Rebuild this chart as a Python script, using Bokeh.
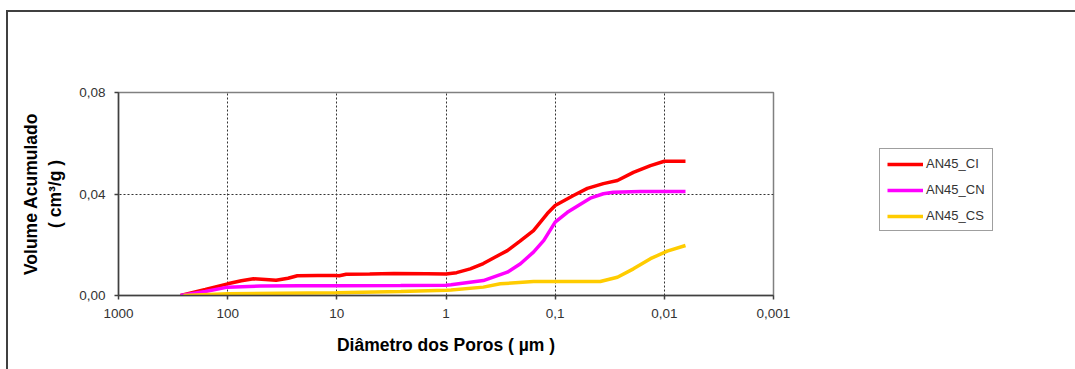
from bokeh.plotting import figure
from bokeh.models import (Range1d, FixedTicker, CustomJSTickFormatter, Legend, LegendItem)
from bokeh.embed import file_html
from bokeh.resources import INLINE

# ---- data ----
ci_d = [270, 160, 100, 75, 58, 45, 36, 28, 23, 15, 10.5, 9.5, 8.2, 5, 3, 1.5, 1.0, 0.8,
        0.6, 0.455, 0.36, 0.274, 0.21, 0.158, 0.118, 0.1, 0.068, 0.0507, 0.0362, 0.0269,
        0.0192, 0.0134, 0.01, 0.0064]
ci_v = [0.0, 0.0024, 0.0046, 0.0058, 0.0066, 0.0063, 0.0060, 0.0068, 0.0078, 0.0079,
        0.0079, 0.0078, 0.0084, 0.0085, 0.0087, 0.0086, 0.0085, 0.0090,
        0.0105, 0.0126, 0.0150, 0.0177, 0.0214, 0.0256, 0.0323, 0.0355, 0.0394, 0.0422,
        0.0441, 0.0453, 0.0485, 0.0512, 0.0529, 0.0529]

cn_d = [270, 160, 100, 50, 21.7, 10, 2.6, 1.0, 0.9, 0.455, 0.274, 0.208, 0.158, 0.127,
        0.1, 0.0773, 0.0582, 0.0469, 0.0362, 0.0294, 0.0166, 0.0064]
cn_v = [0.0, 0.0016, 0.0033, 0.0037, 0.0038, 0.0038, 0.0039, 0.0040, 0.0042, 0.0059,
        0.0092, 0.0125, 0.0171, 0.0217, 0.0289, 0.0328, 0.0361, 0.0385, 0.0401, 0.0407,
        0.0410, 0.0410]

cs_d = [254, 100, 32.8, 10, 2.6, 1.0, 0.9, 0.455, 0.318, 0.158, 0.1, 0.0386, 0.0269,
        0.0192, 0.0134, 0.0094, 0.0064]
cs_v = [0.0, 0.0007, 0.0009, 0.0011, 0.0016, 0.0021, 0.0022, 0.0033, 0.0046, 0.0055,
        0.0055, 0.0055, 0.0072, 0.0105, 0.0145, 0.0175, 0.0197]

series_names = ["AN45_CI", "AN45_CN", "AN45_CS"]
x_ticks = [1000, 100, 10, 1, 0.1, 0.01, 0.001]
y_ticks = [0.0, 0.04, 0.08]

FONT = "Liberation Sans"

p = figure(frame_width=655, frame_height=203, x_axis_type="log",
           x_range=Range1d(1000, 0.001), y_range=Range1d(0, 0.08),
           output_backend="svg", toolbar_location=None,
           min_border_left=110, min_border_top=80, min_border_right=302,
           min_border_bottom=74)

# outer chart-area border (Excel chart area)
p.styles = {"margin-left": "6px", "margin-top": "10px",
            "border-left": "2px solid #404040", "border-top": "2px solid #404040"}

p.background_fill_color = "white"
p.border_fill_color = "white"
p.outline_line_color = "#808080"
p.outline_line_width = 1.5

colors = ["#FF0000", "#FF00FF", "#FFCC00"]
r1 = p.line(ci_d, ci_v, line_color=colors[0], line_width=3.5)
r2 = p.line(cn_d, cn_v, line_color=colors[1], line_width=3.5)
r3 = p.line(cs_d, cs_v, line_color=colors[2], line_width=3.5)

# axes
p.xaxis.ticker = FixedTicker(ticks=x_ticks, minor_ticks=[])
p.yaxis.ticker = FixedTicker(ticks=y_ticks, minor_ticks=[])
p.xaxis.formatter = CustomJSTickFormatter(
    code="return String(Number(tick.toPrecision(1))).replace('.', ',');")
p.yaxis.formatter = CustomJSTickFormatter(
    code="return tick.toFixed(2).replace('.', ',');")

for ax in (p.xaxis[0], p.yaxis[0]):
    ax.axis_line_color = "#404040"
    ax.axis_line_width = 1.5
    ax.major_tick_line_color = "#404040"
    ax.major_tick_line_width = 1.5
    ax.major_tick_out = 4
    ax.major_tick_in = 0
    ax.minor_tick_line_color = None
    ax.major_label_text_font = FONT
    ax.major_label_text_font_size = "13.5px"
    ax.major_label_text_color = "#333333"
    ax.axis_label_text_font = FONT
    ax.axis_label_text_font_size = "17.5px"
    ax.axis_label_text_font_style = "bold"
    ax.axis_label_text_color = "#000000"

p.xaxis.axis_label = "Diâmetro dos Poros ( µm )"
p.xaxis.major_label_standoff = 9
p.xaxis.axis_label_standoff = 14
p.yaxis.axis_label = "Volume Acumulado\n( cm³/g )"
p.yaxis.major_label_standoff = 9
p.yaxis.axis_label_standoff = 11

# grid
p.xgrid.ticker = FixedTicker(ticks=[100, 10, 1, 0.1, 0.01])
p.ygrid.ticker = FixedTicker(ticks=[0.04])
for g in (p.xgrid[0], p.ygrid[0]):
    g.grid_line_color = "#333333"
    g.grid_line_width = 1
    g.grid_line_dash = "2 2"

# legend
legend = Legend(items=[LegendItem(label=series_names[0], renderers=[r1]),
                       LegendItem(label=series_names[1], renderers=[r2]),
                       LegendItem(label=series_names[2], renderers=[r3])],
                location=(106, 64), orientation="vertical")
legend.border_line_color = "#404040"
legend.border_line_width = 1
legend.background_fill_color = "white"
legend.background_fill_alpha = 1
legend.label_text_font = FONT
legend.label_text_font_size = "13px"
legend.label_text_color = "#333333"
legend.glyph_width = 36
legend.glyph_height = 14
legend.label_height = 14
legend.label_standoff = 3
legend.spacing = 11
legend.padding = 7
legend.margin = 0
p.add_layout(legend, "right")

open("out.html", "w").write(file_html(p, INLINE))
